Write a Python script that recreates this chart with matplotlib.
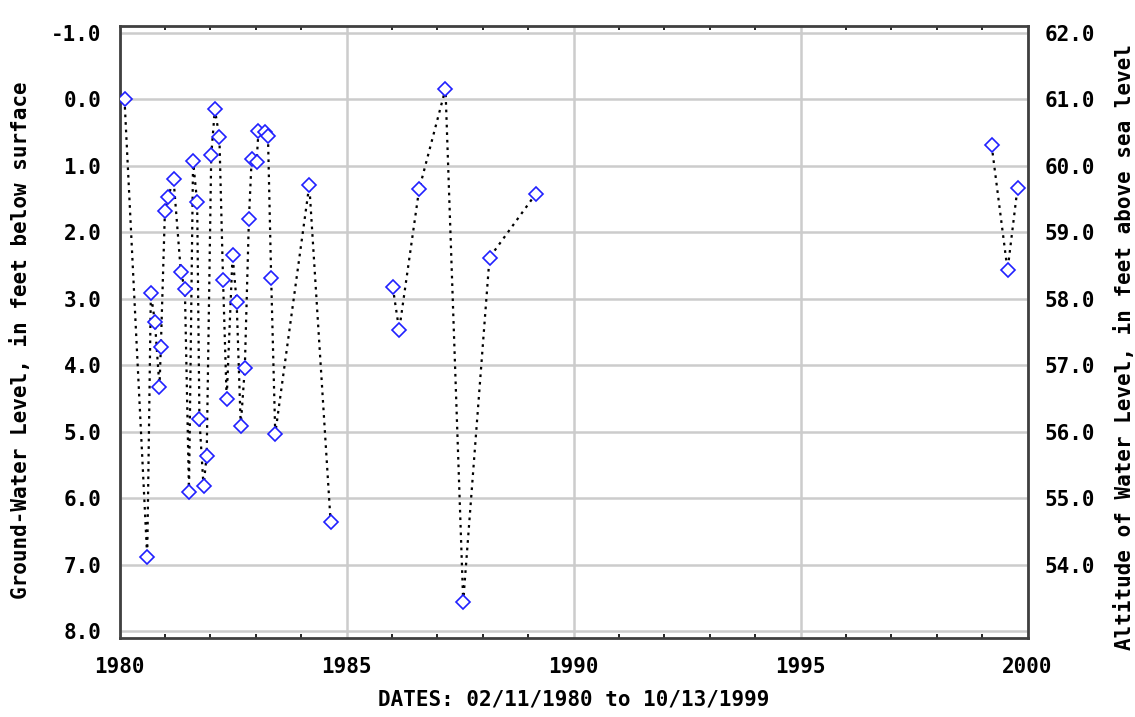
#!/usr/bin/env python3

from matplotlib import pyplot as plt
from matplotlib.ticker import MultipleLocator, FormatStrFormatter
import numpy as np

# measurement dates (decimal years) and depth to water (ft below surface)
dates = [1980.11, 1980.61, 1980.69, 1980.78, 1980.88, 1980.91, 1981.00, 1981.07,
         1981.19, 1981.35, 1981.44, 1981.53, 1981.62, 1981.71, 1981.76, 1981.85,
         1981.92, 1982.02, 1982.10, 1982.20, 1982.28, 1982.36, 1982.49, 1982.58,
         1982.67, 1982.76, 1982.85, 1982.91, 1983.02, 1983.06, 1983.20, 1983.27,
         1983.34, 1983.43, 1984.18, 1984.65,
         1986.02, 1986.16, 1986.60, 1987.18, 1987.57, 1988.15, 1989.17,
         1999.21, 1999.56, 1999.78]
depths = [0.0, 6.89, 2.92, 3.35, 4.33, 3.73, 1.68, 1.47,
          1.20, 2.59, 2.86, 5.91, 0.92, 1.55, 4.81, 5.82,
          5.36, 0.84, 0.15, 0.57, 2.71, 4.51, 2.34, 3.05,
          4.91, 4.04, 1.80, 0.90, 0.94, 0.48, 0.49, 0.55,
          2.68, 5.03, 1.29, 6.36,
          2.83, 3.47, 1.35, -0.16, 7.56, 2.38, 1.42,
          0.69, 2.57, 1.33]
# index where each continuous record starts (line is broken between them)
segment_starts = [0, 36, 43]
land_surface = 61.0  # altitude of land surface, ft above sea level

x_ticks = [1980, 1985, 1990, 1995, 2000]
y_ticks = [-1, 0, 1, 2, 3, 4, 5, 6, 7, 8]
alt_ticks = [54, 55, 56, 57, 58, 59, 60, 61, 62]


def main():
    plt.rcParams['font.family'] = ['DejaVu Sans Mono']
    plt.rcParams['font.weight'] = 'bold'
    plt.rcParams['axes.labelweight'] = 'bold'
    fs = 15

    fig = plt.figure(figsize=(11.35, 7.17), dpi=100)
    ax = fig.add_axes([0.1053, 0.1102, 0.8, 0.8535])

    dates_a = np.array(dates)
    depths_a = np.array(depths)
    bounds = segment_starts + [len(dates)]
    for s, e in zip(bounds[:-1], bounds[1:]):
        ax.plot(dates_a[s:e], depths_a[s:e], color='black',
                linestyle=(0, (1.2, 2.2)), linewidth=1.6, zorder=2)
    ax.plot(dates_a, depths_a, linestyle='none', marker='D', markersize=7.5,
            markerfacecolor='white', markeredgecolor='#2020ff',
            markeredgewidth=1.2, zorder=3)

    pad = 7 / 66.4
    ax.set_xlim(1980, 2000)
    ax.set_ylim(8 + pad, -1 - pad)
    ax.set_xticks(x_ticks)
    ax.set_yticks(y_ticks)
    ax.xaxis.set_minor_locator(MultipleLocator(1))
    ax.yaxis.set_major_formatter(FormatStrFormatter('%.1f'))
    ax.grid(True, which='major', color='#cccccc', linewidth=1.8)
    ax.set_axisbelow(True)
    ax.tick_params(axis='both', which='major', length=0, labelsize=fs)
    ax.tick_params(axis='x', which='major', pad=14)
    ax.tick_params(axis='y', which='major', pad=13)
    ax.tick_params(axis='x', which='minor', direction='in', length=3,
                   width=1.2, top=True, bottom=True)
    for sp in ax.spines.values():
        sp.set_color('#404040')
        sp.set_linewidth(2)

    ax.set_xlabel('DATES: 02/11/1980 to 10/13/1999', fontsize=15, labelpad=9)
    ax.set_ylabel('Ground-Water Level, in feet below surface', fontsize=15)
    ax.yaxis.set_label_coords(-0.097, 0.487)

    ax2 = ax.twinx()
    lo, hi = ax.get_ylim()
    ax2.set_ylim(land_surface - lo, land_surface - hi)
    ax2.set_yticks(alt_ticks)
    ax2.yaxis.set_major_formatter(FormatStrFormatter('%.1f'))
    ax2.tick_params(axis='y', length=0, labelsize=fs, pad=12)
    for sp in ax2.spines.values():
        sp.set_visible(False)
    ax2.set_ylabel('Altitude of Water Level, in feet above sea level',
                   fontsize=15)
    ax2.yaxis.set_label_coords(1.095, 0.475)

    fig.savefig('out.png', dpi=100)


if __name__ == '__main__':
    main()
